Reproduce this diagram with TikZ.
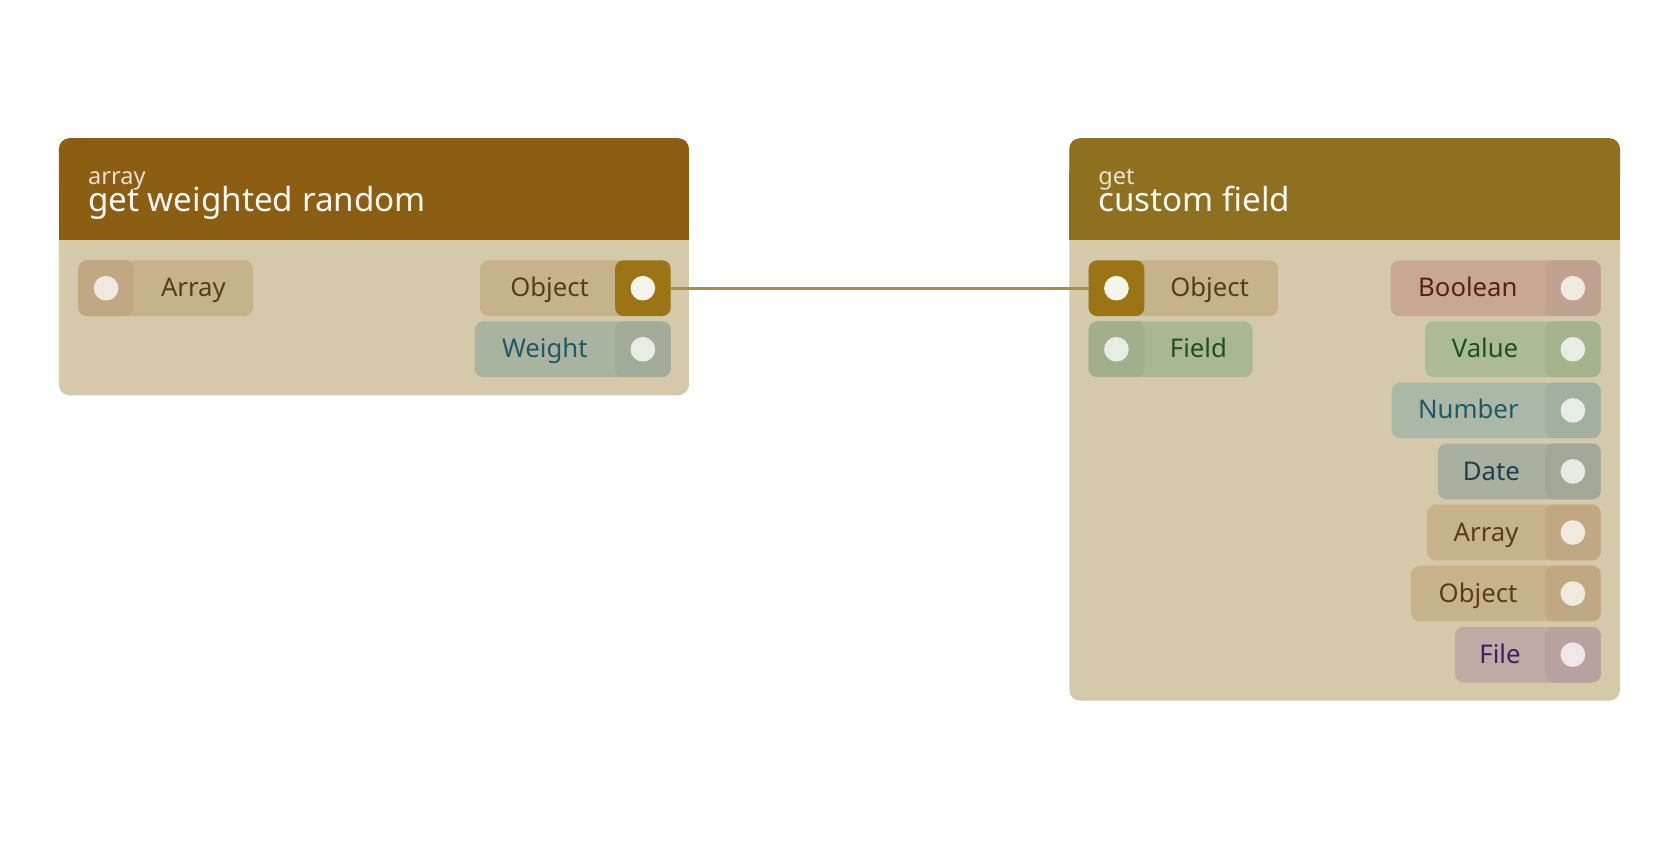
\documentclass[tikz,border=0pt]{standalone}
\usepackage{fontspec}
\setmainfont{Noto Sans}
\begin{document}
\begin{tikzpicture}[x=1pt,y=-1pt,
 pill/.style={rounded corners=8pt,inner sep=0},
 lbl/.style={font=\fontsize{24}{24}\selectfont,anchor=center,inner sep=0},
 dot/.style={circle,inner sep=0,minimum size=23pt}]
\definecolor{body}{HTML}{D4C9A8}
\definecolor{hA}{HTML}{8C5E12}
\definecolor{hB}{HTML}{8E701E}
\definecolor{gold}{HTML}{9A7415}
\definecolor{edge}{HTML}{A88F42}
\useasboundingbox (0,0) rectangle (1568,784);
% left node
\fill[body,rounded corners=10pt] (55,129) rectangle (643,369);
\fill[hA,rounded corners=10pt] (55,129) rectangle (643,180);
\fill[hA] (55,160) rectangle (643,224);
\node[anchor=base west,inner sep=0,text=white!80!hA,font=\fontsize{22}{22}\selectfont] (t1) at (82,172) {array};
\node[anchor=base west,inner sep=0,text=white!95!hA,font=\fontsize{31}{31}\selectfont] (t2) at (82,197) {get weighted random};
% right node
\fill[body,rounded corners=10pt] (998,129) rectangle (1512,654);
\fill[hB,rounded corners=10pt] (998,129) rectangle (1512,180);
\fill[hB] (998,160) rectangle (1512,224);
\node[anchor=base west,inner sep=0,text=white!80!hB,font=\fontsize{22}{22}\selectfont] (t3) at (1025,172) {get};
\node[anchor=base west,inner sep=0,text=white!95!hB,font=\fontsize{31}{31}\selectfont] (t4) at (1025,197) {custom field};
% edge
\coordinate (e1) at (626,269); \coordinate (e2) at (1016,269);
\draw[edge,line width=2.5pt] (e1) -- (e2);
\newcommand\pillL[7]{%
 \fill[pill,fill=#4] (#1,#2) rectangle (#3,#2+52);
 \fill[pill,fill=#5] (#1,#2) rectangle (#1+52,#2+52);
 \node[dot,fill=white!75!#5] at (#1+26,#2+26) {};
 \node[lbl,anchor=base,text=#6] at ({(#1+52+#3)/2},#2+34) {#7};}
\newcommand\pillR[7]{%
 \fill[pill,fill=#4] (#1,#2) rectangle (#3,#2+52);
 \fill[pill,fill=#5] (#3-52,#2) rectangle (#3,#2+52);
 \node[dot,fill=white!75!#5] at (#3-26,#2+26) {};
 \node[lbl,anchor=base,text=#6] at ({(#1+#3-52)/2},#2+34) {#7};}
\definecolor{pA}{HTML}{C7B38A}\definecolor{sA}{HTML}{C0A982}\definecolor{tA}{HTML}{5A3E10}
\definecolor{pW}{HTML}{A9B3A0}\definecolor{sW}{HTML}{A3AC9A}\definecolor{tW}{HTML}{1F5A66}
\definecolor{pF}{HTML}{A9B892}\definecolor{sF}{HTML}{A2AF8C}\definecolor{tF}{HTML}{1E5020}
\definecolor{pB}{HTML}{C8A893}\definecolor{sB}{HTML}{C0A290}\definecolor{tB}{HTML}{5A1E1E}
\definecolor{pV}{HTML}{ADBB92}\definecolor{sV}{HTML}{A5B38C}
\definecolor{pN}{HTML}{ABB8A8}\definecolor{sN}{HTML}{A3AFA1}
\definecolor{pD}{HTML}{A9B09F}\definecolor{sD}{HTML}{A1A898}\definecolor{tD}{HTML}{1F4050}
\definecolor{pL}{HTML}{C0AAA5}\definecolor{sL}{HTML}{B8A2A0}\definecolor{tL}{HTML}{3E2060}
\pillL{73}{243}{236}{pA}{sA}{tA}{Array}
\fill[pill,fill=pA] (448,243) rectangle (626,295);
\fill[pill,fill=gold] (574,243) rectangle (626,295);
\node[dot,fill=white!92!gold] at (600,269) {};
\node[lbl,anchor=base,text=tA] at (513,277) {Object};
\pillR{443}{300}{626}{pW}{sW}{tW}{Weight}
\fill[pill,fill=pA] (1016,243) rectangle (1193,295);
\fill[pill,fill=gold] (1016,243) rectangle (1068,295);
\node[dot,fill=white!92!gold] at (1042,269) {};
\node[lbl,anchor=base,text=tA] at (1129,277) {Object};
\pillL{1016}{300}{1169}{pF}{sF}{tF}{Field}
\pillR{1298}{243}{1494}{pB}{sB}{tB}{Boolean}
\pillR{1330}{300}{1494}{pV}{sV}{tF}{Value}
\pillR{1299}{357}{1494}{pN}{sN}{tW}{Number}
\pillR{1342}{414}{1494}{pD}{sD}{tD}{Date}
\pillR{1332}{471}{1494}{pA}{sA}{tA}{Array}
\pillR{1317}{528}{1494}{pA}{sA}{tA}{Object}
\pillR{1358}{585}{1494}{pL}{sL}{tL}{File}
\end{tikzpicture}
\end{document}
